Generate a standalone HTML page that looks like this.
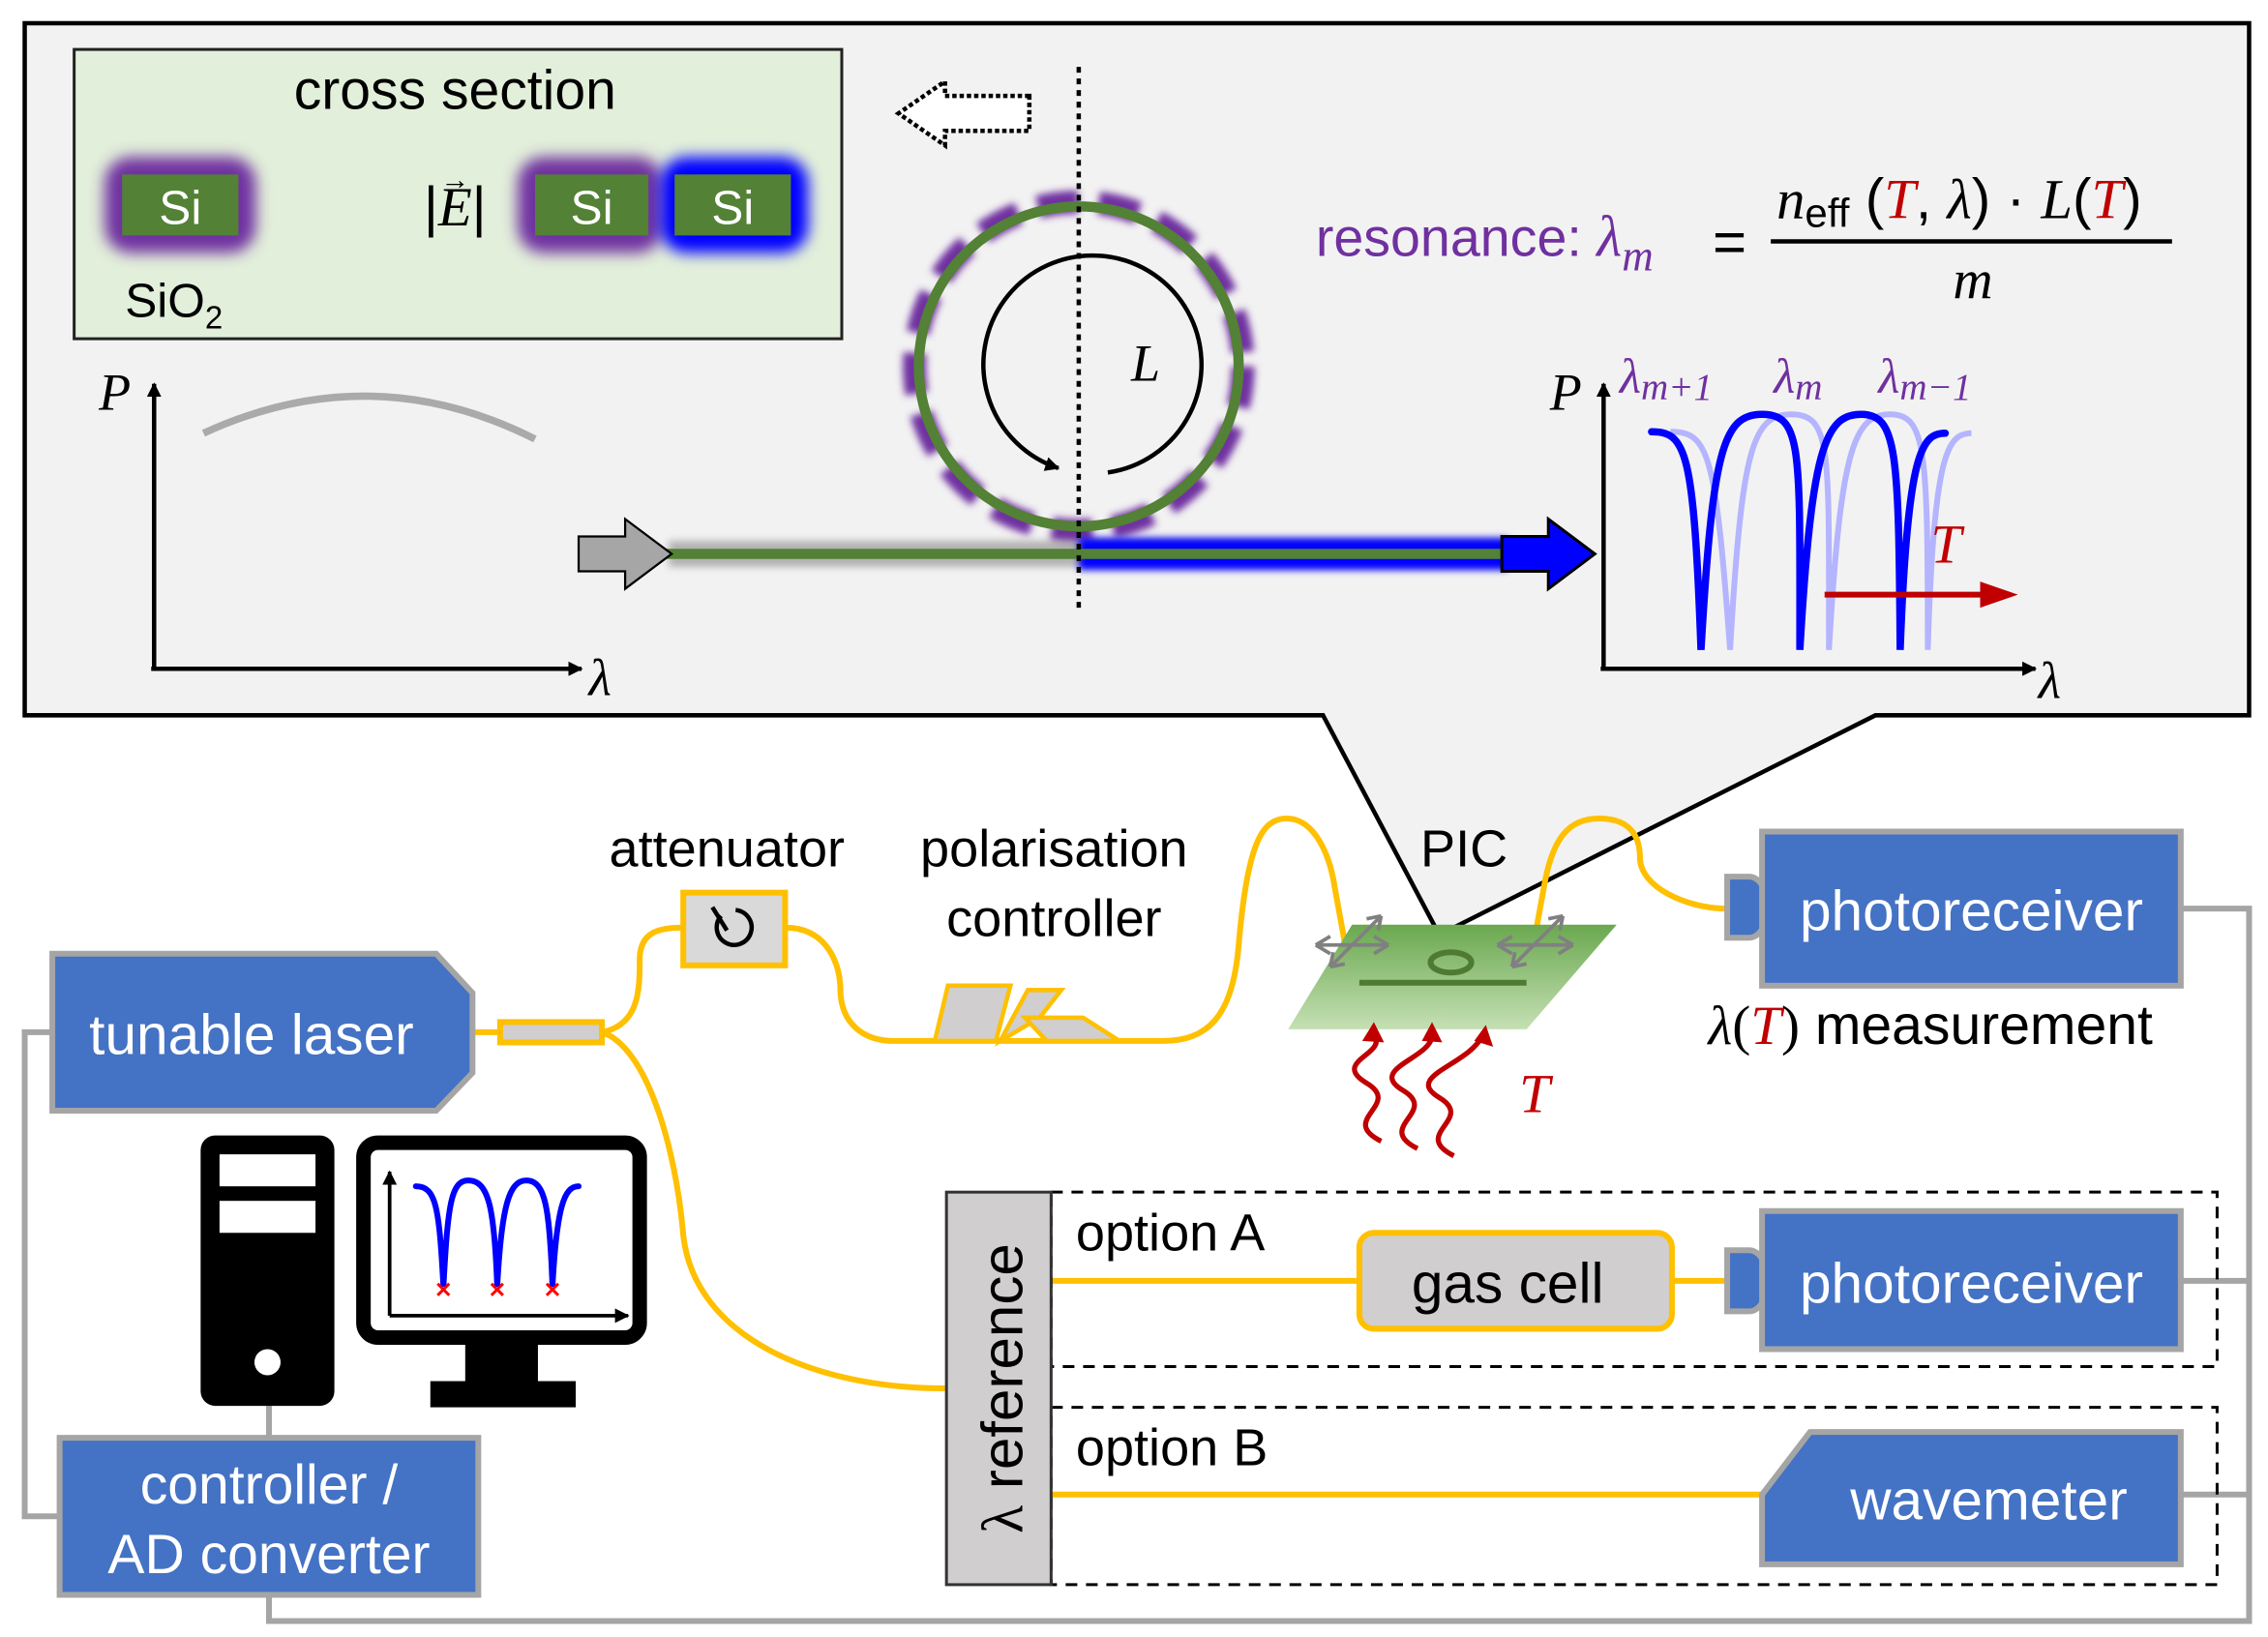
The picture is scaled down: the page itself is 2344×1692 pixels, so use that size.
<!DOCTYPE html>
<html><head><meta charset="utf-8"><style>
html,body{margin:0;padding:0;background:#fff;}
svg{display:block;}
text{font-family:"Liberation Sans",sans-serif;}
.m{font-family:"Liberation Serif",serif;font-style:italic;}
</style></head><body>
<svg width="2344" height="1692" viewBox="0 0 1560 1126" preserveAspectRatio="none" xmlns="http://www.w3.org/2000/svg">
<defs>
<filter id="bl" x="-50%" y="-50%" width="200%" height="200%"><feGaussianBlur stdDeviation="5"/></filter>
<filter id="bl2" x="-50%" y="-50%" width="200%" height="200%"><feGaussianBlur stdDeviation="2.5"/></filter>
<linearGradient id="chip" x1="0" y1="0" x2="0" y2="1"><stop offset="0" stop-color="#6aa84f"/><stop offset="1" stop-color="#c5e0b4"/></linearGradient>
<marker id="ah" markerWidth="10" markerHeight="10" refX="9" refY="5" orient="auto" markerUnits="userSpaceOnUse" viewBox="0 0 10 10"><path d="M0,0 L10,5 L0,10Z" fill="#000"/></marker>
</defs>
<path d="M17,16 H1547 V492 H1290 L990,643 L910,492 H17 Z" fill="#f2f2f2" stroke="#000" stroke-width="3"/>
<rect x="51" y="34" width="528" height="199" fill="#e2efda" stroke="#222" stroke-width="2"/>
<text x="313" y="75" font-size="38" text-anchor="middle">cross section</text>
<rect x="72" y="108" width="104" height="66" rx="18" fill="#7030a0" filter="url(#bl)"/>
<rect x="356" y="108" width="100" height="66" rx="18" fill="#7030a0" filter="url(#bl)"/>
<rect x="454" y="108" width="102" height="66" rx="18" fill="#0000ff" filter="url(#bl)"/>
<rect x="84" y="120" width="80" height="42" fill="#538135"/>
<rect x="368" y="120" width="78" height="42" fill="#538135"/>
<rect x="464" y="120" width="80" height="42" fill="#538135"/>
<text x="124" y="154" font-size="33" fill="#fff" text-anchor="middle">Si</text>
<text x="407" y="154" font-size="33" fill="#fff" text-anchor="middle">Si</text>
<text x="504" y="154" font-size="33" fill="#fff" text-anchor="middle">Si</text>
<text x="313" y="155" font-size="38" text-anchor="middle" font-family="Liberation Serif,serif">|<tspan class="m">E</tspan>|</text>
<text x="303" y="130" font-size="20" font-family="Liberation Serif,serif">→</text>
<text x="86" y="218" font-size="33">SiO<tspan font-size="22" dy="8">2</tspan></text>
<line x1="106" y1="460" x2="106" y2="264" stroke="#000" stroke-width="3" marker-end="url(#ah)"/>
<line x1="104" y1="460" x2="400" y2="460" stroke="#000" stroke-width="3" marker-end="url(#ah)"/>
<text x="68" y="282" class="m" font-size="36">P</text>
<text x="405" y="478" class="m" font-size="36">λ</text>
<path d="M140,298 Q255,245 368,302" fill="none" stroke="#aaa" stroke-width="5"/>
<path d="M708,66 L650,66 L650,56 L618,78 L650,100 L650,90 L708,90 Z" fill="#fff" stroke="#000" stroke-width="3" stroke-dasharray="3,2"/>
<circle cx="742" cy="252" r="113" fill="none" stroke="#7030a0" stroke-width="16" stroke-dasharray="28,14" filter="url(#bl2)"/>
<circle cx="742" cy="252" r="110" fill="none" stroke="#538135" stroke-width="7"/>
<path d="M762,325 A75,75 0 1 0 728,322" fill="none" stroke="#000" stroke-width="3" marker-end="url(#ah)"/>
<text x="778" y="262" class="m" font-size="36">L</text>
<rect x="460" y="372" width="580" height="18" fill="#888" filter="url(#bl2)" opacity="0.6"/>
<rect x="742" y="370" width="295" height="22" fill="#0000ff" filter="url(#bl2)"/>
<line x1="458" y1="381" x2="1040" y2="381" stroke="#538135" stroke-width="7"/>
<path d="M398,369 H430 V357 L462,381 L430,405 V393 H398 Z" fill="#a6a6a6" stroke="#000" stroke-width="1.5"/>
<path d="M1033,369 H1065 V357 L1097,381 L1065,405 V393 H1033 Z" fill="#0000ff" stroke="#000" stroke-width="2"/>
<line x1="742" y1="46" x2="742" y2="422" stroke="#000" stroke-width="3" stroke-dasharray="4,4"/>
<text x="905" y="176" font-size="37" fill="#7030a0">resonance: <tspan class="m" font-size="40">λ</tspan><tspan class="m" font-size="30" dy="10">m</tspan></text>
<text x="1178" y="180" font-size="40" font-family="Liberation Serif,serif">=</text>
<line x1="1218" y1="166" x2="1494" y2="166" stroke="#000" stroke-width="3"/>
<text x="1222" y="150" font-size="39" font-family="Liberation Serif,serif"><tspan class="m">n</tspan><tspan font-size="28" dy="6">eff</tspan><tspan dy="-6"> (</tspan><tspan class="m" fill="#c00000">T</tspan>, <tspan class="m">λ</tspan>) · <tspan class="m">L</tspan>(<tspan class="m" fill="#c00000">T</tspan>)</text>
<text x="1357" y="205" class="m" font-size="38" text-anchor="middle">m</text>
<line x1="1103" y1="460" x2="1103" y2="264" stroke="#000" stroke-width="3" marker-end="url(#ah)"/>
<line x1="1101" y1="460" x2="1400" y2="460" stroke="#000" stroke-width="3" marker-end="url(#ah)"/>
<text x="1066" y="282" class="m" font-size="36">P</text>
<text x="1402" y="480" class="m" font-size="36">λ</text>
<text x="1114" y="270" class="m" font-size="34" fill="#7030a0">λ<tspan font-size="26" dy="5">m+1</tspan></text>
<text x="1220" y="270" class="m" font-size="34" fill="#7030a0">λ<tspan font-size="26" dy="5">m</tspan></text>
<text x="1292" y="270" class="m" font-size="34" fill="#7030a0">λ<tspan font-size="26" dy="5">m−1</tspan></text>
<path d="M1149,297 C1175,297 1180,310 1190,447 C1198,310 1205,285 1232,285 C1260,285 1258,310 1258,447 C1266,310 1275,285 1300,285 C1325,285 1326,310 1326,447 C1330,310 1340,298 1356,298" fill="none" stroke="#b4b4ff" stroke-width="4"/>
<path d="M1136,297 C1160,297 1165,310 1170,447 C1178,310 1185,285 1212,285 C1240,285 1238,310 1238,447 C1246,310 1255,285 1280,285 C1305,285 1306,310 1307,447 C1312,310 1322,298 1338,298" fill="none" stroke="#0000ff" stroke-width="5" stroke-linecap="round"/>
<line x1="1255" y1="409" x2="1365" y2="409" stroke="#c00000" stroke-width="4"/>
<path d="M1362,400 L1388,409 L1362,418Z" fill="#c00000"/>
<text x="1328" y="387" class="m" font-size="38" fill="#c00000">T</text>
<g fill="none" stroke="#a5a5a5" stroke-width="4">
<path d="M36,710 H17 V1043 H41"/>
<path d="M185,967 V989"/>
<path d="M185,1097 V1115 H1547 V625 H1500"/>
<path d="M1500,881 H1547"/>
<path d="M1500,1028 H1547"/>
</g>
<g fill="none" stroke="#ffc000" stroke-width="4">
<path d="M325,710 H344"/>
<path d="M414,710 C440,705 440,680 440,660 C440,640 455,638 470,638"/>
<path d="M540,638 C570,638 578,665 578,680 C578,705 595,716 615,716 H800 C830,716 848,700 852,650 C858,580 868,563 885,563 C905,563 915,590 918,610 L930,676"/>
<path d="M414,710 C445,720 465,790 470,850 C478,920 560,955 650,955"/>
<path d="M1050,676 L1062,610 C1068,575 1080,563 1100,563 C1125,563 1128,580 1128,590 C1128,610 1160,625 1188,625"/>
<path d="M723,881 H935"/>
<path d="M1150,881 H1190"/>
<path d="M723,1028 H1215"/>
</g>
<rect x="470" y="614" width="70" height="50" fill="#d9d9d9" stroke="#ffc000" stroke-width="4"/>
<path d="M496,630 A12,12 0 1 0 506,626" fill="none" stroke="#000" stroke-width="3"/>
<path d="M490,624 L500,640" stroke="#000" stroke-width="3"/>
<rect x="344" y="703" width="70" height="14" fill="#d0cece" stroke="#ffc000" stroke-width="4"/>
<g fill="#d0cece" stroke="#ffc000" stroke-width="3">
<path d="M643,716 L652,678 L695,678 L685,716Z"/>
<path d="M688,716 L707,681 L730,681 L715,700 Z"/>
<path d="M705,700 L745,700 L770,716 L720,716Z"/>
</g>
<text x="500" y="596" font-size="36" text-anchor="middle">attenuator</text>
<text x="725" y="596" font-size="36" text-anchor="middle">polarisation</text>
<text x="725" y="644" font-size="36" text-anchor="middle">controller</text>
<text x="1007" y="596" font-size="36" text-anchor="middle">PIC</text>
<path d="M930,636 L1112,636 L1050,708 L886,708Z" fill="url(#chip)"/>
<ellipse cx="998" cy="662" rx="14" ry="7" fill="none" stroke="#4f7a33" stroke-width="4"/>
<line x1="935" y1="676" x2="1050" y2="676" stroke="#4f7a33" stroke-width="4"/>
<g stroke="#808080" stroke-width="2.5" fill="none">
<path d="M905,650 L955,650 M905,650 L915,644 M905,650 L915,656 M955,650 L945,644 M955,650 L945,656"/>
<path d="M915,665 L950,630 M915,665 L917,655 M915,665 L925,663 M950,630 L940,632 M950,630 L948,640"/>
<path d="M1030,650 L1082,650 M1030,650 L1040,644 M1030,650 L1040,656 M1082,650 L1072,644 M1082,650 L1072,656"/>
<path d="M1040,665 L1075,630 M1040,665 L1042,655 M1040,665 L1050,663 M1075,630 L1065,632 M1075,630 L1073,640"/>
</g>
<g fill="none" stroke="#c00000" stroke-width="3.5">
<path d="M950,785 C920,770 965,760 940,745 C915,730 955,725 945,712"/>
<path d="M975,790 C945,775 990,765 965,750 C940,735 985,728 985,712"/>
<path d="M1000,795 C970,780 1015,770 990,755 C965,740 1010,733 1020,712"/>
</g>
<path d="M937,716 L945,703 L952,717Z M978,716 L985,703 L992,717Z M1014,716 L1022,705 L1027,720Z" fill="#c00000"/>
<text x="1045" y="765" class="m" font-size="38" fill="#c00000">T</text>
<path d="M1188,603 H1203 A13,21 0 0 1 1203,645 H1188 Z" fill="#4472c4" stroke="#a5a5a5" stroke-width="4"/>
<rect x="1212" y="572" width="288" height="106" fill="#4472c4" stroke="#a5a5a5" stroke-width="4"/>
<text x="1356" y="640" font-size="39" fill="#fff" text-anchor="middle">photoreceiver</text>
<text x="1175" y="718" font-size="38"><tspan class="m">λ</tspan><tspan font-family="Liberation Serif,serif">(</tspan><tspan class="m" fill="#c00000">T</tspan><tspan font-family="Liberation Serif,serif">)</tspan> measurement</text>
<path d="M36,656 H300 L325,683 V738 L300,764 H36 Z" fill="#4472c4" stroke="#a5a5a5" stroke-width="4"/>
<text x="173" y="725" font-size="39" fill="#fff" text-anchor="middle">tunable laser</text>
<rect x="138" y="781" width="92" height="186" rx="10" fill="#000"/>
<rect x="151" y="794" width="66" height="22" fill="#fff"/>
<rect x="151" y="826" width="66" height="22" fill="#fff"/>
<circle cx="184" cy="937" r="9" fill="#fff"/>
<rect x="250" y="786" width="190" height="134" rx="10" fill="#fff" stroke="#000" stroke-width="10"/>
<rect x="320" y="924" width="50" height="28" fill="#000"/>
<rect x="296" y="950" width="100" height="18" fill="#000"/>
<line x1="268" y1="905" x2="268" y2="806" stroke="#000" stroke-width="2.5" marker-end="url(#ah)"/>
<line x1="268" y1="905" x2="432" y2="905" stroke="#000" stroke-width="2.5" marker-end="url(#ah)"/>
<path d="M286,816 C300,816 302,830 305,885 C308,830 310,812 322,812 C336,812 340,830 342,885 C345,830 350,812 362,812 C375,812 378,830 380,885 C383,830 388,816 398,816" fill="none" stroke="#0000ff" stroke-width="4" stroke-linecap="round"/>
<g stroke="#ff0000" stroke-width="2"><path d="M301,883 l8,8 M309,883 l-8,8 M338,883 l8,8 M346,883 l-8,8 M376,883 l8,8 M384,883 l-8,8"/></g>
<rect x="41" y="989" width="288" height="108" fill="#4472c4" stroke="#a5a5a5" stroke-width="4"/>
<text x="185" y="1034" font-size="38" fill="#fff" text-anchor="middle">controller /</text>
<text x="185" y="1082" font-size="38" fill="#fff" text-anchor="middle">AD converter</text>
<rect x="723" y="820" width="802" height="120" fill="none" stroke="#000" stroke-width="2" stroke-dasharray="8,6"/>
<rect x="723" y="968" width="802" height="122" fill="none" stroke="#000" stroke-width="2" stroke-dasharray="8,6"/>
<rect x="651" y="820" width="72" height="270" fill="#d0cece" stroke="#333" stroke-width="2"/>
<text transform="translate(703,955) rotate(-90)" font-size="40" text-anchor="middle"><tspan font-family="Liberation Serif,serif">λ</tspan> reference</text>
<text x="740" y="860" font-size="36">option A</text>
<text x="740" y="1008" font-size="36">option B</text>
<rect x="935" y="848" width="215" height="66" rx="10" fill="#d0cece" stroke="#ffc000" stroke-width="4"/>
<text x="1037" y="896" font-size="39" text-anchor="middle">gas cell</text>
<path d="M1188,860 H1203 A13,21 0 0 1 1203,902 H1188 Z" fill="#4472c4" stroke="#a5a5a5" stroke-width="4"/>
<rect x="1212" y="833" width="288" height="95" fill="#4472c4" stroke="#a5a5a5" stroke-width="4"/>
<text x="1356" y="896" font-size="39" fill="#fff" text-anchor="middle">photoreceiver</text>
<path d="M1245,985 H1500 V1076 H1212 V1028 Z" fill="#4472c4" stroke="#a5a5a5" stroke-width="4"/>
<text x="1368" y="1045" font-size="39" fill="#fff" text-anchor="middle">wavemeter</text>
</svg>
</body></html>
